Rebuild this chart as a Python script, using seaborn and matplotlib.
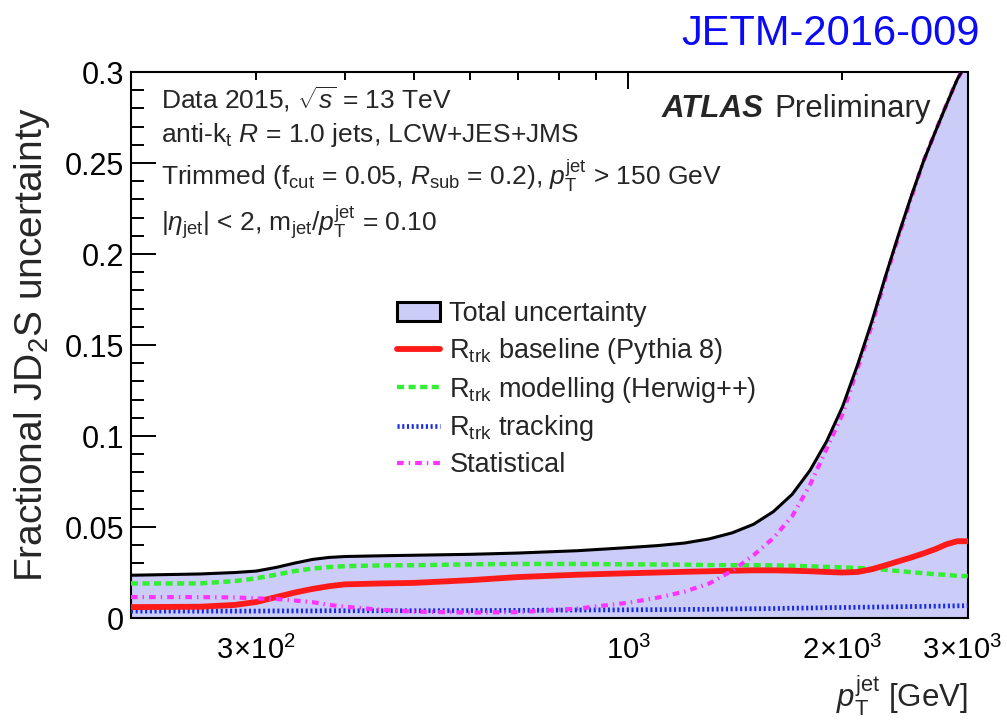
import matplotlib
matplotlib.use('Agg')
import matplotlib.pyplot as plt
import matplotlib.transforms as mtransforms
import seaborn as sns
import pandas as pd
from matplotlib.patches import Patch
from matplotlib.lines import Line2D

# Values
pt = [200, 250, 280, 300, 320, 340, 360, 380, 400, 450,
      500, 600, 700, 850, 1000, 1100, 1200, 1300, 1400, 1500,
      1600, 1700, 1800, 1900, 2000, 2100, 2200, 2300, 2400, 2500,
      2600, 2700, 2800, 2900, 3000]
total = [0.0235, 0.0242, 0.025, 0.0258, 0.0278, 0.0302, 0.0322, 0.0333, 0.0338, 0.0342,
         0.0345, 0.035, 0.0357, 0.037, 0.0387, 0.0398, 0.0412, 0.0435, 0.0468, 0.0515,
         0.0585, 0.068, 0.081, 0.097, 0.116, 0.139, 0.163, 0.188, 0.211, 0.232,
         0.251, 0.267, 0.282, 0.296, 0.306]
baseline = [0.006, 0.0062, 0.0072, 0.0088, 0.0115, 0.014, 0.016, 0.0175, 0.0185, 0.019,
            0.0193, 0.0208, 0.0225, 0.0238, 0.0246, 0.025, 0.0254, 0.0257, 0.026, 0.0262,
            0.0262, 0.026, 0.0257, 0.0253, 0.025, 0.0253, 0.0268, 0.029, 0.0312, 0.0333,
            0.0355, 0.0378, 0.0405, 0.0422, 0.0422]
modelling = [0.019, 0.019, 0.0203, 0.0218, 0.0238, 0.0258, 0.0272, 0.028, 0.0285, 0.0289,
             0.029, 0.0295, 0.0297, 0.0297, 0.0295, 0.0294, 0.0293, 0.0291, 0.029, 0.029,
             0.0289, 0.0287, 0.0284, 0.0281, 0.0278, 0.0275, 0.0271, 0.0265, 0.0258, 0.0252,
             0.0246, 0.0241, 0.0237, 0.0232, 0.023]
tracking = [0.0038, 0.0038, 0.0038, 0.0038, 0.0039, 0.0039, 0.0039, 0.004, 0.004, 0.004,
            0.004, 0.0041, 0.0042, 0.0044, 0.0045, 0.0046, 0.0047, 0.0048, 0.005, 0.0051,
            0.0052, 0.0054, 0.0055, 0.0057, 0.0058, 0.0059, 0.006, 0.0061, 0.0062, 0.0063,
            0.0064, 0.0065, 0.0066, 0.0067, 0.0068]
statistical = [0.0115, 0.0115, 0.0113, 0.0108, 0.0105, 0.0096, 0.0087, 0.0072, 0.0062, 0.0045,
               0.0035, 0.003, 0.0032, 0.0052, 0.0084, 0.0112, 0.0145, 0.019, 0.026, 0.0345,
               0.044, 0.056, 0.073, 0.093, 0.112, 0.137, 0.161, 0.187, 0.210, 0.231,
               0.251, 0.267, 0.282, 0.296, 0.306]

xmaj = [1000]
xmaj_labels = [r'$10^{3}$']
xmin_ticks = [200, 300, 400, 500, 600, 700, 800, 900, 2000, 3000]
xmin_labels = ['', r'$3\!\times\!10^{2}$', '', '', '', '', '', '', r'$2\!\times\!10^{3}$', r'$3\!\times\!10^{3}$']
yticks = [0, 0.05, 0.1, 0.15, 0.2, 0.25, 0.3]
ylabels = ['0', '0.05', '0.1', '0.15', '0.2', '0.25', '0.3']

df = pd.DataFrame({'pt': pt, 'total': total, 'baseline': baseline,
                   'modelling': modelling, 'tracking': tracking, 'statistical': statistical})

sns.set_theme(style='ticks')
plt.rcParams['font.family'] = ['Liberation Sans', 'DejaVu Sans']
plt.rcParams['mathtext.fontset'] = 'custom'
plt.rcParams['mathtext.rm'] = 'Liberation Sans'
plt.rcParams['mathtext.it'] = 'Liberation Sans:italic'
plt.rcParams['mathtext.bf'] = 'Liberation Sans:bold'

fig = plt.figure(figsize=(10.07, 7.23), dpi=100)
ax = fig.add_axes([0.130, 0.1452, 0.831, 0.7552])

fill_col = '#ccccf8'
red = '#ff1a1a'
green = '#33ee33'
blue = '#1a2ee0'
magenta = '#ff33ff'
ls_green = (0, (1.6, 1.0))
ls_blue = (0, (0.45, 0.55))
ls_mag = (0, (1.6, 1.2, 0.35, 1.2))

ax.fill_between(df['pt'], 0, df['total'], color=fill_col, lw=0, zorder=1)
sns.lineplot(data=df, x='pt', y='total', ax=ax, color='black', lw=2.2, zorder=5)
sns.lineplot(data=df, x='pt', y='tracking', ax=ax, color=blue, lw=3.4, linestyle=ls_blue, zorder=3)
sns.lineplot(data=df, x='pt', y='modelling', ax=ax, color=green, lw=3.2, linestyle=ls_green, zorder=3)
sns.lineplot(data=df, x='pt', y='baseline', ax=ax, color=red, lw=4.2, zorder=4)
sns.lineplot(data=df, x='pt', y='statistical', ax=ax, color=magenta, lw=3.0, linestyle=ls_mag, zorder=4)

ax.set_xscale('log')
ax.set_xlim(200, 3000)
ax.set_ylim(0, 0.3)

ax.set_xticks(xmaj, xmaj_labels)
ax.set_xticks(xmin_ticks, xmin_labels, minor=True)
ax.set_yticks(yticks, ylabels)
ax.set_yticks([i * 0.01 for i in range(31)], minor=True)

ax.tick_params(axis='both', which='both', direction='in', top=True, right=True,
               width=1.4, colors='black')
ax.tick_params(axis='y', which='both', labelsize=22)
ax.tick_params(axis='x', which='both', labelsize=21)
ax.tick_params(axis='x', which='major', length=12, pad=13)
ax.tick_params(axis='x', which='minor', length=6, pad=13)
ax.tick_params(axis='y', which='major', length=18, pad=5)
ax.tick_params(axis='y', which='minor', length=9)
for s in ax.spines.values():
    s.set_linewidth(1.5)
    s.set_color('black')

# nudge the last tick label left so it stays inside the figure
last = ax.get_xticklabels(minor=True)[-1]
last.set_transform(last.get_transform() + mtransforms.ScaledTranslation(-6 / 100, 0, fig.dpi_scale_trans))

ax.set_ylabel(r'Fractional JD$_{2}$S uncertainty', fontsize=28, va='center')
ax.yaxis.set_label_coords(-0.118, 0.5)
ax.set_xlabel(r'$p_{\mathrm{T}}^{\mathrm{jet}}$ [GeV]', fontsize=22.5, ha='right', va='baseline')
ax.xaxis.set_label_coords(1.0, -0.163)

# Annotations
fs = 19
ax.text(0.036, 0.934, r'Data 2015, $\sqrt{s}$ = 13 TeV', transform=ax.transAxes, fontsize=fs)
ax.text(0.036, 0.872, r'anti-k$_{\mathrm{t}}$ $R$ = 1.0 jets, LCW+JES+JMS', transform=ax.transAxes, fontsize=fs)
ax.text(0.036, 0.793, r'Trimmed (f$_{\mathrm{cut}}$ = 0.05, $R_{\mathrm{sub}}$ = 0.2), $p_{\mathrm{T}}^{\mathrm{jet}}$ > 150 GeV',
        transform=ax.transAxes, fontsize=fs)
ax.text(0.036, 0.707, r'$|\eta_{\mathrm{jet}}|$ < 2, m$_{\mathrm{jet}}$/$p_{\mathrm{T}}^{\mathrm{jet}}$ = 0.10',
        transform=ax.transAxes, fontsize=fs)
ax.text(0.634, 0.918, 'ATLAS', transform=ax.transAxes, fontsize=22.5, fontweight='bold', fontstyle='italic')
ax.text(0.769, 0.918, 'Preliminary', transform=ax.transAxes, fontsize=22.5)

fig.text(0.973, 0.938, 'JETM-2016-009', color='#0a0af5', fontsize=30, ha='right')

# Legend
handles = [
    Patch(facecolor=fill_col, edgecolor='black', lw=2.2),
    Line2D([], [], color=red, lw=4.2),
    Line2D([], [], color=green, lw=3.2, linestyle=ls_green),
    Line2D([], [], color=blue, lw=3.4, linestyle=ls_blue),
    Line2D([], [], color=magenta, lw=3.0, linestyle=ls_mag),
]
labels = ['Total uncertainty',
          r'R$_{\mathrm{trk}}$ baseline (Pythia 8)',
          r'R$_{\mathrm{trk}}$ modelling (Herwig++)',
          r'R$_{\mathrm{trk}}$ tracking',
          'Statistical']
ax.legend(handles, labels, loc='upper left', bbox_to_anchor=(0.318, 0.58), frameon=False,
          fontsize=19.5, handlelength=1.6, handletextpad=0.33, labelspacing=0.32, borderpad=0,
          borderaxespad=0)

fig.savefig('out.png', dpi=100)
